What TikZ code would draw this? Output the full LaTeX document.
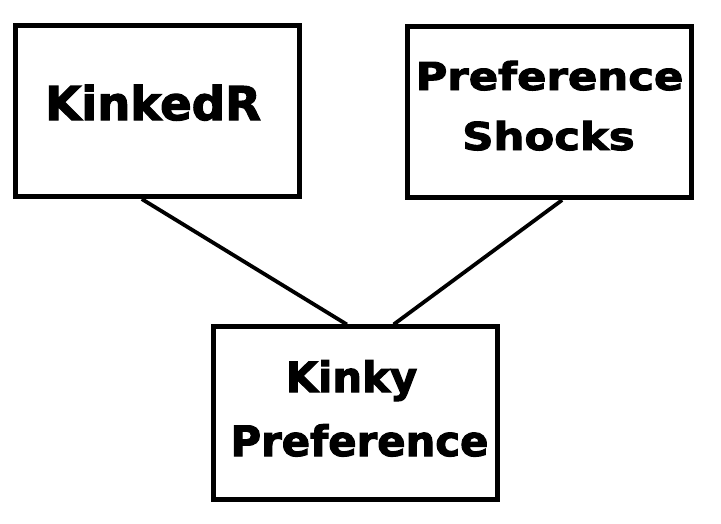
\documentclass[tikz,border=0pt]{standalone}
\usepackage{fontspec}
\setmainfont{DejaVu Sans}
\newfontfamily\heavyfont{DejaVu Sans Bold}[FakeBold=2.5]
\usetikzlibrary{calc}
\tikzset{
  box/.style={draw=black, line width=5pt, inner sep=0pt, fill=white},
  link/.style={draw=black, line width=3.8pt},
  lbl/.style={anchor=base, inner sep=0pt, font=\heavyfont},
}
\begin{document}
\begin{tikzpicture}[x=1pt, y=-1pt]
\useasboundingbox (0,0) rectangle (721,523);
% boxes
\node[box, minimum width=283.7pt, minimum height=170.7pt] (kr) at (157.7,111.2) {};
\node[box, minimum width=283.5pt, minimum height=170.7pt] (ps) at (549.7,112.2) {};
\node[box, minimum width=284pt, minimum height=172.5pt] (kp) at (355.5,413.2) {};
% texts
\node[lbl] (krt) at (153,120) {\fontsize{46.6pt}{56pt}\selectfont KinkedR};
\node[lbl] (pst1) at (549.5,90) {\scalebox{1.13}[1]{\fontsize{38.4pt}{46pt}\selectfont Preference}};
\node[lbl] (pst2) at (548.5,150) {\scalebox{1.13}[1]{\fontsize{38.4pt}{46pt}\selectfont Shocks}};
\node[lbl] (kpt1) at (351.5,392) {\fontsize{41.8pt}{50pt}\selectfont Kinky};
\node[lbl] (kpt2) at (359.5,456) {\fontsize{41.8pt}{50pt}\selectfont Preference};
% connectors
\draw[link] ($(kr.south west)!0.445!(kr.south east)$) -- ($(kp.north west)!0.47!(kp.north east)$);
\draw[link] ($(ps.south west)!0.543!(ps.south east)$) -- ($(kp.north west)!0.632!(kp.north east)$);
\end{tikzpicture}
\end{document}
